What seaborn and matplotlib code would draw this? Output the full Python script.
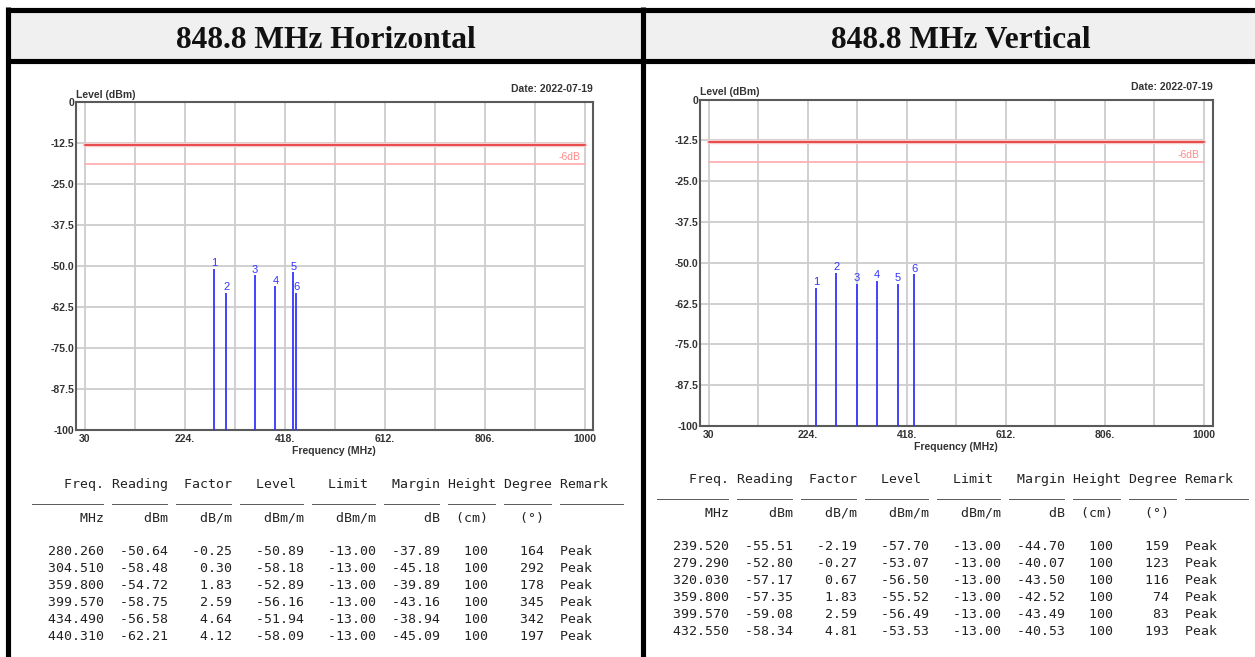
import matplotlib
matplotlib.use("Agg")
import matplotlib.pyplot as plt
import seaborn as sns

# ---- measured peaks, horizontal antenna polarisation ----
h_freq = [280.260, 304.510, 359.800, 399.570, 434.490, 440.310]
h_reading = [-50.64, -58.48, -54.72, -58.75, -56.58, -62.21]
h_factor = [-0.25, 0.30, 1.83, 2.59, 4.64, 4.12]
h_level = [-50.89, -58.18, -52.89, -56.16, -51.94, -58.09]
h_margin = [-37.89, -45.18, -39.89, -43.16, -38.94, -45.09]
h_height = [100, 100, 100, 100, 100, 100]
h_degree = [164, 292, 178, 345, 342, 197]

# ---- measured peaks, vertical antenna polarisation ----
v_freq = [239.520, 279.290, 320.030, 359.800, 399.570, 432.550]
v_reading = [-55.51, -52.80, -57.17, -57.35, -59.08, -58.34]
v_factor = [-2.19, -0.27, 0.67, 1.83, 2.59, 4.81]
v_level = [-57.70, -53.07, -56.50, -55.52, -56.49, -53.53]
v_margin = [-44.70, -40.07, -43.50, -42.52, -43.49, -40.53]
v_height = [100, 100, 100, 100, 100, 100]
v_degree = [159, 123, 116, 74, 83, 193]

limit_dbm = -13.0
margin_offset_db = 6.0
remark = "Peak"
test_date = "2022-07-19"
titles = ["848.8 MHz Horizontal", "848.8 MHz Vertical"]

y_ticks = [0, -12.5, -25.0, -37.5, -50.0, -62.5, -75.0, -87.5, -100]
y_tick_labels = ["0", "-12.5", "-25.0", "-37.5", "-50.0", "-62.5", "-75.0", "-87.5", "-100"]
x_ticks = [30, 224, 418, 612, 806, 1000]
x_tick_labels = ["30", "224.", "418.", "612.", "806.", "1000"]
x_grid = [30, 127, 224, 321, 418, 515, 612, 709, 806, 903, 1000]

# ---- styling ----
sns.set_theme(style="white")
plt.rcParams["font.family"] = ["Liberation Sans", "DejaVu Sans"]

W, H = 1255, 657
fig = plt.figure(figsize=(W / 100, H / 100), dpi=100)
fig.patch.set_facecolor("white")

# page layer in pixel coordinates (y grows downward)
page = fig.add_axes([0, 0, 1, 1])
page.set_xlim(0, W)
page.set_ylim(H, 0)
page.axis("off")

# header band and cell borders
page.fill_between([10.5, W], 12, 58.5, color="#f0f0f0", lw=0)
border = dict(color="black", lw=3.7, solid_capstyle="butt")
page.plot([8, 8], [7, H], **border)
page.plot([643, 643], [7, H], **border)
page.plot([5.5, W], [9.5, 9.5], **border)
page.plot([5.5, W], [61, 61], **border)

for cx, title in zip([325.5, 961], titles):
    page.text(cx, 47.5, title, family=["Liberation Serif", "DejaVu Serif"],
              weight="bold", fontsize=22.7, color="#111", ha="center", va="baseline")

GRID = "#cdcdcd"
FRAME = "#5a5a5a"
TXT = "#333333"
STEM = "#3434ff"


def draw_chart(frame, xlim, freq, level):
    left, top, right, bottom = frame
    ax = fig.add_axes([left / W, 1 - bottom / H, (right - left) / W, (bottom - top) / H])
    ax.set_facecolor("white")
    ax.set_xlim(*xlim)
    ax.set_ylim(-100, 0)

    # grid
    ax.hlines(y_ticks[1:-1], xlim[0], 1000, color=GRID, lw=1.3, zorder=1)
    ax.vlines(x_grid, -100, 0, color=GRID, lw=1.3, zorder=1)

    # limit and limit - 6 dB lines
    sns.lineplot(x=[30, 1000], y=[limit_dbm, limit_dbm], ax=ax,
                 color="#f6cccc", lw=3.2, zorder=2)
    sns.lineplot(x=[30, 1000], y=[limit_dbm, limit_dbm], ax=ax,
                 color="#e84a4a", lw=1.4, zorder=3)
    sns.lineplot(x=[30, 1000], y=[limit_dbm - margin_offset_db] * 2, ax=ax,
                 color="#ffb0b0", lw=1.3, zorder=3)
    ax.annotate("-6dB", xy=(1000, limit_dbm - margin_offset_db), xytext=(-3, 1.5),
                textcoords="offset points", ha="right", va="bottom",
                color="#ff8a8a", fontsize=7.5)

    # peak markers
    ax.vlines(freq, -100, level, color=STEM, lw=1.3, zorder=4)
    for i, (f, lv) in enumerate(zip(freq, level), start=1):
        ax.annotate(str(i), xy=(f, lv), xytext=(0, 0.5), textcoords="offset points",
                    ha="center", va="bottom", color=STEM, fontsize=8, zorder=5)

    ax.set_xticks(x_ticks)
    ax.set_xticklabels(x_tick_labels, fontweight="bold")
    ax.set_yticks(y_ticks)
    ax.set_yticklabels(y_tick_labels, fontweight="bold")
    ax.tick_params(axis="both", length=0, labelsize=7.5, labelcolor=TXT)
    ax.tick_params(axis="y", pad=1)
    ax.tick_params(axis="x", pad=3)
    ax.set_xlabel("")
    ax.set_ylabel("")
    for sp in ax.spines.values():
        sp.set_visible(True)
        sp.set_color(FRAME)
        sp.set_linewidth(1.5)
    ax.grid(False)

    lab = dict(fontsize=7.5, fontweight="bold", color=TXT, va="center")
    page.text(left, top - 7.5, "Level (dBm)", ha="left", **lab)
    page.text(right, top - 13, f"Date: {test_date}", ha="right", **lab)
    page.text((left + right) / 2, bottom + 20.7, "Frequency (MHz)", ha="center", **lab)
    return ax


draw_chart((75.5, 102, 592.6, 430), (11.55, 1015.7), h_freq, h_level)
draw_chart((699.6, 99.7, 1212.5, 426), (11.58, 1016.7), v_freq, v_level)


# ---- fixed-width result tables ----
def table_lines(freq, reading, factor, level, margin, height, degree):
    lines = [
        "    Freq. Reading  Factor   Level    Limit   Margin Height Degree Remark",
        " ".join("_" * n for n in (9, 7, 7, 8, 8, 7, 6, 6, 8)),
        f"{'MHz':>9} {'dBm':>7} {'dB/m':>7} {'dBm/m':>8} {'dBm/m':>8} {'dB':>7} "
        f"{'(cm)':>5}  {'(°)':>5}",
    ]
    for f, r, fa, lv, m, hcm, d in zip(freq, reading, factor, level, margin, height, degree):
        lines.append(f"{f:>9.3f} {r:>7.2f} {fa:>7.2f} {lv:>8.2f} {limit_dbm:>8.2f} "
                     f"{m:>7.2f} {hcm:>5d}  {d:>5d}  {remark}")
    return lines


def draw_table(x0, y_head, lines):
    baselines = [y_head, y_head + 13, y_head + 33.4] + [y_head + 66.7 + 17 * i for i in range(len(lines) - 3)]
    for k, (y, line) in enumerate(zip(baselines, lines)):
        page.text(x0, y, line, family=["DejaVu Sans Mono"], fontsize=9.5,
                  color="#555555" if k == 1 else "#222222", ha="left", va="baseline")


draw_table(31.7, 488.3, table_lines(h_freq, h_reading, h_factor, h_level, h_margin, h_height, h_degree))
draw_table(657.0, 483.3, table_lines(v_freq, v_reading, v_factor, v_level, v_margin, v_height, v_degree))

fig.savefig("out.png", dpi=100)
